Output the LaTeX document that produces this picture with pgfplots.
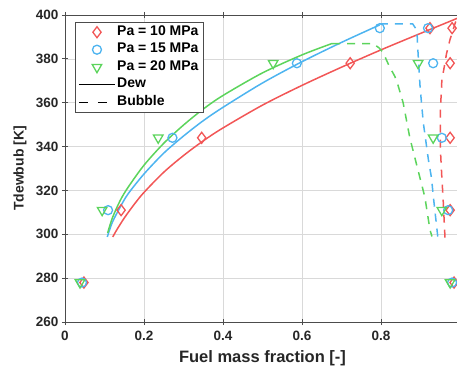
\documentclass[border=0pt]{standalone}
\usepackage{fontspec}
\setmainfont{Liberation Sans}
\usepackage{pgfplots}
\pgfplotsset{compat=1.18}
\usetikzlibrary{calc}
\definecolor{cR}{RGB}{242,86,86}
\definecolor{cB}{RGB}{77,180,240}
\definecolor{cG}{RGB}{92,212,92}
\newcommand{\tf}{\bfseries\fontsize{13.5}{16}\selectfont}
\newcommand{\lf}{\bfseries\fontsize{14}{16}\selectfont}
\begin{document}
\begin{tikzpicture}
\begin{axis}[name=ax,
  width=395pt, height=307pt, scale only axis,
  xmin=0, xmax=1, ymin=260, ymax=400,
  xtick={0,0.2,0.4,0.6,0.8,1}, xticklabels={0,0.2,0.4,0.6,0.8,{}},
  ytick={260,280,...,400},
  grid=major, grid style={black!15, line width=0.6pt},
  axis line style={black!70, line width=0.9pt},
  tick align=center, major tick length=6pt,
  tick style={black!70, line width=0.8pt},
  ticklabel style={font=\tf, text=black!85},
  xticklabel style={yshift=-3pt},
  /pgf/number format/assume math mode=true,
  xlabel={Fuel mass fraction [-]},
  ylabel={Tdewbub [K]},
  every axis x label/.style={at={(rel axis cs:0.5,0)}, yshift=-36.5pt, anchor=center, font=\bfseries\fontsize{16.5}{18}\selectfont, text=black!85},
  every axis y label/.style={at={(rel axis cs:0,0.5)}, xshift=-45pt, anchor=center, rotate=90, font=\lf, text=black!85},
  legend style={at={(0.025,0.977)}, anchor=north west, draw=black!70, line width=0.8pt,
    font=\lf, inner xsep=3pt, inner ysep=1pt,
    nodes={inner sep=1.5pt, text height=10.5pt, text depth=4pt}},
  legend cell align=left,
  legend image code/.code={\draw[mark repeat=2,mark phase=2,#1] plot coordinates {(0pt,0pt) (18pt,0pt) (36pt,0pt)};},
]
% dew curves (solid)
\addplot[forget plot, cR, line width=1.5pt, smooth] coordinates {
(0.121,298.8) (0.13,301.7) (0.15,307.4) (0.175,313.6) (0.2,319.1) (0.25,328.3) (0.3,335.9) (0.35,342.6) (0.4,348.5) (0.5,358.9) (0.6,367.9) (0.7,376.2) (0.8,384.1) (0.9,391.6) (1.0,399.0)};
\addplot[forget plot, cB, line width=1.5pt, smooth] coordinates {
(0.107,298.8) (0.12,305.5) (0.14,312.5) (0.16,318.5) (0.2,327.5) (0.25,337.0) (0.3,344.8) (0.35,351.8) (0.4,357.9) (0.5,369.0) (0.6,378.7) (0.7,387.5) (0.797,395.5)};
\addplot[forget plot, cG, line width=1.5pt, smooth] coordinates {
(0.108,300.6) (0.12,307.5) (0.14,315.5) (0.16,321.5) (0.2,331.5) (0.25,341.5) (0.3,349.8) (0.35,357.1) (0.4,363.3) (0.5,373.6) (0.6,381.8) (0.676,387.0)};
% bubble curves (dashed)
\addplot[forget plot, cR, line width=1.5pt, dash pattern=on 8pt off 7pt] coordinates {
(0.962,298.5) (0.957,317) (0.954,326) (0.950,340) (0.950,355) (0.954,370) (0.966,382.5) (0.975,389) (0.99,397.5) (0.998,400)};
\addplot[forget plot, cB, line width=1.5pt, dash pattern=on 8pt off 7pt] coordinates {
(0.797,396) (0.88,396) (0.891,393) (0.893,385) (0.896,376) (0.899,367) (0.907,351) (0.920,334) (0.928,325.5) (0.932,318) (0.940,305) (0.944,298.5)};
\addplot[forget plot, cG, line width=1.5pt, dash pattern=on 8pt off 7pt] coordinates {
(0.676,387) (0.78,387) (0.795,385) (0.805,383) (0.82,377) (0.835,372) (0.843,368) (0.856,360) (0.873,344) (0.894,329) (0.911,317) (0.924,302) (0.929,299)};
% data points
\addplot[only marks, mark=diamond, mark size=5.5pt, cR, line width=1.3pt, mark options={solid}] coordinates {
(0.048,278) (0.142,311) (0.346,344) (0.722,378) (0.924,394) (0.98,394) (0.975,378) (0.975,344) (0.975,311) (0.985,278)};
\addlegendentry{Pa = 10 MPa}
\addplot[only marks, mark=o, mark size=4.5pt, cB, line width=1.3pt, mark options={solid}] coordinates {
(0.043,278) (0.109,311) (0.272,344) (0.587,378) (0.797,394) (0.919,394) (0.932,378) (0.954,344) (0.97,311) (0.98,278)};
\addlegendentry{Pa = 15 MPa}
\addplot[only marks, mark=triangle, mark size=5.5pt, cG, line width=1.3pt, mark options={solid, rotate=180}] coordinates {
(0.038,278) (0.094,311) (0.236,344) (0.527,378) (0.894,378) (0.932,344) (0.954,311) (0.975,278)};
\addlegendentry{Pa = 20 MPa}
\addlegendimage{black, line width=1.4pt}
\addlegendentry{Dew}
\addlegendimage{black, line width=1.4pt, dash pattern=on 9pt off 10pt}
\addlegendentry{Bubble}
\end{axis}
\pgfresetboundingbox
\path[use as bounding box] ($(ax.south west)+(-65pt,-47pt)$) rectangle ($(ax.south west)+(392pt,322pt)$);
\end{tikzpicture}
\end{document}
